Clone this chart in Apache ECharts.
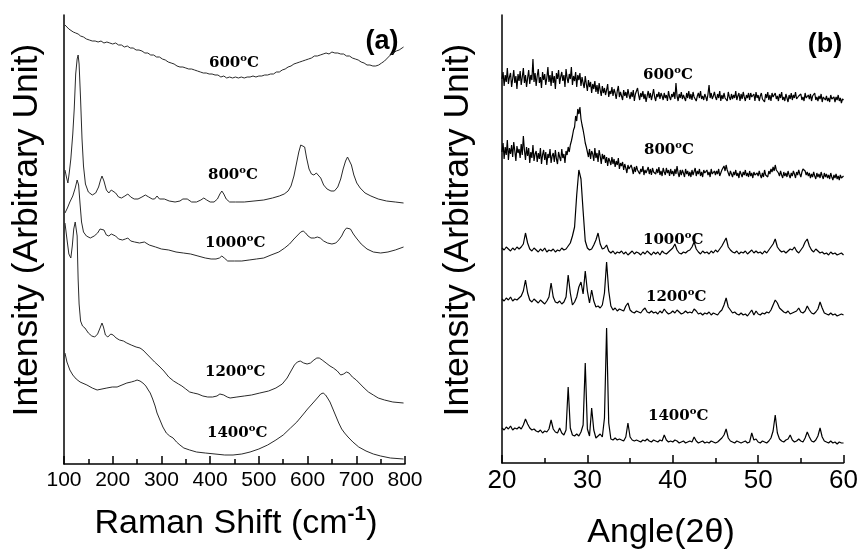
<!DOCTYPE html>
<html>
<head>
<meta charset="utf-8">
<script src="https://cdn.jsdelivr.net/npm/echarts/dist/echarts.min.js"></script>
<style>
  html, body { margin: 0; padding: 0; background: #fff; }
  #chart { width: 861px; height: 552px; }
</style>
</head>
<body>
<div id="chart"></div>
<script>
// ---- (a) Raman spectra: [Raman shift (cm-1), offset intensity (arb. units)] ----
const raman600 = [[102,439],[106,437],[110,435],[114,434],[119,432],[124,431],[129,430],[134,428],[140,427],[146,425],[152,424],[158,423],[164,423],[170,422],[176,423],[182,421],[188,422],[194,421],[200,420],[206,421],[212,419],[218,419],[224,417],[230,418],[236,416],[242,416],[248,414],[254,414],[260,413],[266,411],[272,411],[278,409],[284,409],[290,407],[296,407],[302,405],[308,404],[314,402],[320,401],[326,400],[332,398],[338,397],[344,397],[350,396],[356,395],[362,395],[368,394],[374,393],[380,392],[386,391],[392,391],[398,390],[404,390],[410,389],[416,389],[422,387],[428,388],[434,386],[440,387],[446,386],[452,387],[458,386],[464,387],[470,386],[476,387],[482,387],[488,388],[494,387],[500,388],[506,388],[512,389],[518,389],[524,390],[530,390],[536,392],[542,392],[548,394],[554,395],[560,397],[566,398],[572,400],[578,401],[584,402],[590,403],[596,404],[602,405],[608,406],[614,408],[620,408],[626,409],[632,410],[638,411],[644,410],[650,412],[656,411],[662,411],[668,410],[674,410],[680,408],[686,408],[692,406],[698,405],[704,404],[710,402],[716,401],[722,399],[728,399],[734,398],[740,398],[746,399],[752,401],[758,403],[764,406],[770,409],[776,411],[782,413],[788,414],[794,416],[797,417]];

const raman800 = [[102,294],[105,287],[108,281],[111,292],[114,305],[118,330],[121,355],[124,390],[127,405],[129,409],[131,400],[134,365],[137,325],[140,298],[144,280],[150,272],[158,269],[165,271],[171,277],[175,284],[178,288],[182,283],[187,274],[192,271],[197,274],[201,275],[206,271],[212,267],[218,266],[225,268],[231,270],[237,267],[244,265],[252,265],[260,267],[267,269],[274,267],[281,265],[286,265],[291,268],[296,265],[306,265],[316,263],[328,262],[338,263],[344,265],[348,267],[353,265],[362,262],[372,262],[381,264],[387,266],[393,264],[400,262],[408,262],[415,265],[420,270],[424,273],[428,270],[433,265],[440,262],[452,262],[470,262],[490,263],[510,264],[528,266],[542,268],[552,270],[560,273],[566,278],[572,288],[577,300],[582,312],[586,319],[590,321],[594,317],[598,306],[603,295],[608,290],[613,289],[618,291],[622,291],[627,286],[633,279],[640,275],[648,273],[655,273],[662,277],[668,285],[673,295],[678,303],[682,307],[686,306],[690,299],[695,289],[701,281],[708,276],[718,271],[730,268],[745,265],[762,263],[780,262],[797,261]];

const raman1000 = [[102,251],[107,256],[112,262],[118,268],[123,276],[127,284],[130,279],[133,260],[136,242],[140,232],[146,228],[154,226],[162,228],[169,231],[174,235],[178,237],[182,234],[187,229],[192,228],[197,230],[201,231],[206,228],[212,225],[220,224],[226,225],[231,226],[237,223],[245,222],[255,221],[265,222],[275,219],[288,217],[300,215],[315,214],[330,212],[345,211],[360,210],[375,208],[390,206],[402,205],[412,205],[419,206],[424,208],[429,206],[436,203],[450,203],[465,203],[480,204],[495,205],[510,206],[525,209],[541,212],[553,216],[563,220],[572,225],[580,229],[586,232],[591,233],[596,231],[601,228],[607,226],[614,226],[620,227],[626,226],[633,223],[641,221],[650,220],[658,221],[664,224],[670,228],[675,233],[680,236],[684,237],[688,235],[694,230],[700,226],[710,220],[722,215],[735,212],[750,211],[765,212],[780,214],[797,217]];

const raman1200 = [[102,241],[106,225],[110,210],[114,206],[117,218],[120,235],[123,242],[125,240],[127,228],[128,205],[129,185],[131,160],[134,143],[138,138],[143,136],[150,131],[157,128],[163,127],[169,130],[174,136],[178,141],[181,137],[185,129],[190,127],[196,130],[201,129],[207,126],[214,124],[222,123],[229,121],[238,119],[248,117],[256,116],[262,114],[270,110],[278,106],[286,102],[295,98],[305,93],[315,87],[325,83],[335,80],[342,78],[350,75],[358,72],[366,71],[375,70],[385,68],[395,67],[405,67],[414,68],[420,70],[424,71],[428,69],[435,67],[441,66],[455,67],[470,68],[485,69],[502,71],[520,73],[535,76],[548,80],[558,86],[566,93],[573,99],[579,102],[585,103],[592,101],[599,100],[606,101],[613,104],[619,106],[624,106],[630,104],[638,101],[646,98],[653,96],[661,93],[668,89],[674,90],[680,92],[685,91],[692,87],[700,84],[708,80],[716,76],[725,72],[735,69],[745,66],[758,64],[775,62],[797,61]];

const raman1400 = [[102,111],[106,102],[112,94],[118,89],[125,85],[133,82],[147,79],[158,76],[168,74],[178,75],[188,76],[199,77],[209,77],[219,79],[229,81],[238,82],[245,83],[250,84],[256,83],[262,81],[268,78],[273,74],[277,71],[282,65],[287,58],[291,51],[297,44],[303,37],[310,31],[317,28],[324,26],[331,22],[338,19],[346,16],[358,14],[372,12],[390,11],[410,10],[430,9],[447,9],[465,10],[482,12],[500,15],[518,19],[535,24],[550,29],[565,36],[578,42],[590,49],[600,55],[611,61],[620,66],[627,70],[632,71],[637,69],[641,66],[646,62],[652,55],[658,48],[664,41],[670,35],[676,31],[683,27],[693,22],[705,17],[720,13],[735,10],[750,8],[770,6],[797,5]];

// ---- (b) XRD step scans starting at 2-theta = xrdStart ----
// amorphous samples were scanned with a fine step, crystalline ones with a coarser step
const xrdStart = 20;
const fineStep = 0.125;
const coarseStep = 0.25;

// 8 readings per degree, 20.000 .. 60.000
const xrd600 = [
  384,391,377,388,381,395,379,386,
  390,376,384,393,380,387,374,389,
  382,392,378,386,395,380,388,376,
  385,393,379,388,383,404,381,390,
  377,387,394,380,386,375,391,383,
  389,378,385,396,381,388,377,392,
  380,387,374,390,384,393,379,386,
  391,382,388,376,394,385,380,389,
  384,396,378,387,382,391,376,388,
  383,390,377,386,380,375,387,379,
  372,383,376,381,370,379,374,382,
  371,378,369,380,373,367,377,370,
  375,368,373,379,366,372,369,376,
  367,374,370,364,372,377,366,371,
  369,363,373,367,371,365,374,368,
  364,371,366,373,362,369,367,375,
  368,363,370,366,372,364,369,361,
  367,372,365,370,363,368,374,366,
  362,369,366,371,364,370,367,363,
  370,365,368,362,372,366,363,369,
  366,371,364,380,367,362,369,365,
  371,364,368,366,362,370,365,372,
  364,369,363,371,366,368,362,367,
  370,365,372,364,367,363,369,366,
  362,369,378,365,370,364,367,371,
  366,363,369,365,372,362,368,364,
  370,365,367,362,371,366,363,369,
  364,368,365,372,363,367,370,362,
  369,364,371,366,362,368,365,370,
  363,370,366,364,369,362,371,365,
  368,362,367,370,364,366,361,369,
  365,371,363,368,362,370,366,364,
  370,364,367,362,369,365,371,363,
  366,362,369,365,361,368,364,370,
  363,368,365,371,364,362,367,365,
  369,363,366,362,370,365,363,368,
  364,369,362,367,365,370,363,366,
  362,367,364,369,361,366,368,363,
  367,362,365,361,368,364,362,366,
  361,366,363,368,362,365,360,364,
  363
];

const xrd800 = [
  311,320,304,316,308,323,303,315,
  309,318,306,321,312,302,317,310,
  314,305,319,308,327,313,303,316,
  307,315,300,311,305,318,302,309,
  312,301,310,304,315,299,308,313,
  303,311,298,309,305,314,300,307,
  310,301,313,304,299,311,306,302,
  314,305,309,300,312,308,316,311,
  318,322,327,333,336,347,342,354,
  349,356,344,338,333,327,320,316,
  311,306,314,304,312,309,302,315,
  305,310,301,313,307,299,309,304,
  308,300,306,297,305,302,298,306,
  299,304,296,302,298,305,294,300,
  297,301,293,299,295,290,298,294,
  292,298,294,289,296,291,297,293,
  295,289,294,291,297,288,293,290,
  292,296,289,294,288,295,291,293,
  289,294,290,296,288,292,287,295,
  291,288,295,290,293,287,294,289,
  292,287,294,289,297,290,286,293,
  288,293,290,286,294,289,292,287,
  291,286,293,288,290,295,287,292,
  289,294,287,291,286,293,290,288,
  293,288,291,286,294,289,287,292,
  288,292,289,294,287,290,293,295,
  297,292,298,293,290,287,292,289,
  286,291,288,293,287,290,285,292,
  289,286,291,288,293,287,290,286,
  292,287,290,285,291,288,286,290,
  287,292,288,285,290,286,293,288,
  290,286,292,289,294,291,296,292,
  298,293,295,290,287,292,288,285,
  291,287,290,286,292,288,285,290,
  287,292,289,285,291,288,293,289,
  286,291,294,296,292,288,291,287,
  290,285,289,286,291,287,284,290,
  286,289,285,291,287,284,290,286,
  289,285,288,284,290,286,283,288,
  285,289,284,287,283,288,285,286,
  287
];

// 8 readings per 2 degrees, 20.00 .. 60.00
const xrd1000 = [
  215,213,216,214,212,215,213,216,
  214,216,219,230,220,214,212,215,
  213,211,214,212,215,211,213,212,
  214,211,213,212,215,213,214,217,
  220,227,236,268,293,284,252,222,
  215,213,214,218,223,230,219,214,
  215,218,212,210,212,209,211,210,
  212,209,211,208,210,212,209,211,
  210,208,211,209,212,210,208,211,
  209,211,208,212,210,209,211,213,
  215,219,213,210,209,211,210,212,
  213,216,221,214,211,209,212,210,
  211,209,212,210,213,211,214,217,
  221,225,216,213,211,210,212,209,
  211,210,212,209,211,213,210,212,
  210,211,209,212,210,213,216,219,
  224,216,213,211,212,210,212,214,
  213,216,212,210,213,216,221,224,
  217,213,211,214,212,210,211,209,
  210,208,211,209,210,208,209,210,
  208
];

const xrd1200 = [
  164,162,165,163,166,162,164,163,
  165,167,172,183,170,163,161,164,
  162,160,163,161,159,162,166,180,
  166,161,160,162,159,161,166,188,
  170,158,161,166,176,181,169,192,
  172,160,173,162,156,157,155,158,
  170,201,172,157,153,155,152,154,
  153,152,157,160,153,151,150,152,
  151,150,153,155,151,150,152,150,
  151,149,152,150,154,151,149,150,
  152,150,153,151,149,150,152,150,
  151,150,154,152,149,150,148,150,
  149,151,148,150,149,148,151,153,
  158,165,156,153,150,151,149,148,
  150,148,149,147,150,153,148,152,
  149,148,150,149,151,150,153,158,
  163,160,155,153,151,150,152,149,
  150,151,152,155,151,150,152,157,
  153,150,149,151,154,161,155,150,
  149,148,150,148,149,147,148,149,
  148
];

const xrd1400 = [
  35,33,36,34,37,33,35,34,
  36,34,38,44,39,35,33,34,
  32,31,33,30,32,31,34,43,
  34,31,30,35,30,28,33,76,
  35,28,27,29,27,31,38,100,
  34,27,55,33,25,27,29,26,
  45,135,40,24,23,25,23,24,
  23,22,26,40,26,23,22,23,
  22,21,23,22,24,22,21,23,
  22,21,23,22,28,23,21,22,
  21,23,22,20,21,22,20,21,
  22,21,26,22,20,21,22,20,
  21,20,22,21,20,21,23,25,
  28,34,25,22,21,20,22,21,
  20,21,22,20,21,30,23,24,
  21,20,22,21,20,22,25,32,
  48,30,24,22,21,23,24,28,
  23,21,22,24,22,21,25,31,
  26,22,21,23,27,35,26,22,
  21,20,22,20,21,19,21,20,
  20
];

const temperatures = ['600', '800', '1000', '1200', '1400'];
const ramanSeries = [raman600, raman800, raman1000, raman1200, raman1400];
const xrdSeries = [xrd600, xrd800, xrd1000, xrd1200, xrd1400];
const xrdSteps = [fineStep, fineStep, coarseStep, coarseStep, coarseStep];

const ramanTicks = { min: 100, max: 800, step: 100 };
const xrdTicks = { min: 20, max: 60, step: 10 };

// ---- styling ----
const SANS = '"Liberation Sans", Arial, sans-serif';
const SERIF = '"DejaVu Serif", "Liberation Serif", serif';
const INK = '#000';

function scanToPairs(values, step) {
  return values.map((v, i) => [xrdStart + i * step, v]);
}

function lineSeries(data, axisIdx, color, width) {
  return {
    type: 'line', data: data, xAxisIndex: axisIdx, yAxisIndex: axisIdx,
    showSymbol: false, symbol: 'none', smooth: false, animation: false,
    lineStyle: { color: color, width: width }
  };
}

function xAxisCfg(grid, t, fontSize, margin) {
  return {
    gridIndex: grid, type: 'value', min: t.min, max: t.max, interval: t.step,
    axisLine: { show: true, onZero: false, lineStyle: { color: INK, width: 1.5 } },
    axisTick: { show: true, inside: true, length: 8, lineStyle: { color: INK, width: 1.5 } },
    minorTick: { show: true, splitNumber: 2, length: 5, lineStyle: { color: INK, width: 1.5 } },
    axisLabel: { color: INK, fontSize: fontSize, fontFamily: SANS, margin: margin },
    splitLine: { show: false }, minorSplitLine: { show: false }
  };
}

function yAxisCfg(grid, max) {
  return {
    gridIndex: grid, type: 'value', min: 0, max: max,
    axisLine: { show: true, onZero: false, lineStyle: { color: INK, width: 1.5 } },
    axisTick: { show: false }, axisLabel: { show: false }, splitLine: { show: false }
  };
}

function tempLabel(t, x, y) {
  return {
    type: 'text', x: x, y: y, silent: true,
    style: {
      text: '{n|' + t + '}{s|o}{n|C}',
      textAlign: 'left', textVerticalAlign: 'middle', align: 'left', verticalAlign: 'middle',
      rich: {
        n: { fontFamily: SERIF, fontWeight: 'bold', fontSize: 15, lineHeight: 20, verticalAlign: 'middle', fill: INK, color: INK },
        s: { fontFamily: SERIF, fontWeight: 'bold', fontSize: 10, lineHeight: 9, verticalAlign: 'top', fill: INK, color: INK }
      }
    }
  };
}

function plainText(text, x, y, font, rotation) {
  return {
    type: 'text', x: x, y: y, rotation: rotation || 0, silent: true,
    style: { text: text, font: font, fill: INK,
      textAlign: 'center', textVerticalAlign: 'middle', align: 'center', verticalAlign: 'middle' }
  };
}

const ramanLabelPos = [[209, 63], [208, 175], [205, 243], [205, 372], [207, 433]];
const xrdLabelPos = [[643, 75], [644, 150], [643, 240], [646, 297], [648, 416]];

const graphics = [
  plainText('Intensity (Arbitrary Unit)', 27, 230, '35.5px ' + SANS, Math.PI / 2),
  plainText('Intensity (Arbitrary Unit)', 458, 230, '35.5px ' + SANS, Math.PI / 2),
  plainText('(a)', 382, 42, 'bold 27px ' + SANS),
  plainText('(b)', 825, 45, 'bold 27px ' + SANS),
  plainText('Angle(2\u03B8)', 661, 533, '34px ' + SANS),
  {
    type: 'text', x: 236, y: 524, silent: true,
    style: {
      text: '{a|Raman Shift (cm}{s|-1}{a|)}',
      textAlign: 'center', textVerticalAlign: 'middle', align: 'center', verticalAlign: 'middle',
      rich: {
        a: { fontFamily: SANS, fontSize: 34, lineHeight: 40, verticalAlign: 'middle', fill: INK, color: INK },
        s: { fontFamily: SANS, fontWeight: 'bold', fontSize: 21, lineHeight: 26, verticalAlign: 'top', fill: INK, color: INK }
      }
    }
  }
];
temperatures.forEach((t, i) => {
  graphics.push(tempLabel(t, ramanLabelPos[i][0], ramanLabelPos[i][1]));
  graphics.push(tempLabel(t, xrdLabelPos[i][0], xrdLabelPos[i][1]));
});

const series = [];
ramanSeries.forEach(d => series.push(lineSeries(d, 0, '#2a2a2a', 1)));
xrdSeries.forEach((d, i) => series.push(lineSeries(scanToPairs(d, xrdSteps[i]), 1, '#000', 1.2)));

const chart = echarts.init(document.getElementById('chart'), null, { renderer: 'canvas' });
chart.setOption({
  backgroundColor: '#fff',
  animation: false,
  grid: [
    { left: 64, top: 15, width: 341, height: 449 },
    { left: 502, top: 15, width: 343, height: 448 }
  ],
  xAxis: [xAxisCfg(0, ramanTicks, 21, 6), xAxisCfg(1, xrdTicks, 26, 5)],
  yAxis: [yAxisCfg(0, 449), yAxisCfg(1, 448)],
  series: series,
  graphic: graphics
});
</script>
</body>
</html>
